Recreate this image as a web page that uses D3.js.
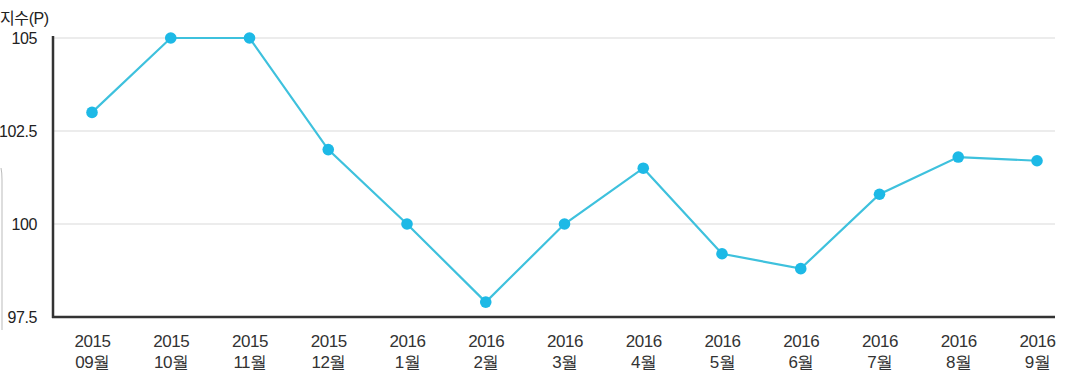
<!DOCTYPE html>
<html><head><meta charset="utf-8">
<script src="https://cdn.jsdelivr.net/npm/d3@7"></script>
<style>
html,body{margin:0;padding:0;background:#fff;}
svg{display:block;font-family:"Liberation Sans","Noto Sans CJK KR",sans-serif;}
</style></head>
<body>
<svg id="chart" width="1070" height="385"></svg>
<script>
const years = ["2015","2015","2015","2015","2016","2016","2016","2016","2016","2016","2016","2016","2016"];
const months = ["09월","10월","11월","12월","1월","2월","3월","4월","5월","6월","7월","8월","9월"];
const values = [103.0,105.0,105.0,102.0,100.0,97.9,100.0,101.5,99.2,98.8,100.8,101.8,101.7];
const yTicks = [97.5,100,102.5,105];
const yTickLabels = ["97.5","100","102.5","105"];
const unitLabel = "지수(P)";

(function(){
const svg = d3.select("#chart");
const mLeft = 53, mRight = 1055, mTop = 38, mBottom = 317;
const idx = d3.range(values.length);
const x = d3.scalePoint().domain(idx).range([92, 1037]).padding(0);
const y = d3.scaleLinear().domain([97.5,105]).range([mBottom, mTop]);

// decorative thin line at far left
svg.append("path").attr("d", `M1,168 Q2,172 2,180 L2,330`).attr("fill","none").attr("stroke","#bbb").attr("stroke-width",1);

// gridlines
svg.append("g").selectAll("line").data(yTicks.filter(d=>d>97.5)).join("line")
  .attr("x1", mLeft).attr("x2", mRight)
  .attr("y1", d=>y(d)).attr("y2", d=>y(d))
  .attr("stroke","#d9d9d9").attr("stroke-width",1);

// y axis labels
const yAxis = d3.axisLeft(y).tickValues(yTicks).tickFormat((d,i)=>yTickLabels[i]).tickSize(0).tickPadding(16);
const gy = svg.append("g").attr("transform",`translate(${mLeft},0)`).call(yAxis);
gy.select(".domain").remove();
gy.selectAll("text").attr("font-size",16).attr("letter-spacing",-0.4).attr("fill","#222").attr("font-family","Liberation Sans, sans-serif");

// axes lines
svg.append("line").attr("x1",mLeft).attr("x2",mLeft).attr("y1",mTop-2).attr("y2",mBottom+1).attr("stroke","#333").attr("stroke-width",2.5);
svg.append("line").attr("x1",mLeft-1).attr("x2",mRight).attr("y1",mBottom).attr("y2",mBottom).attr("stroke","#333").attr("stroke-width",2.5);

// x labels
const xAxis = d3.axisBottom(x).tickSize(0).tickFormat(()=> "");
const gx = svg.append("g").attr("transform",`translate(0,${mBottom})`).call(xAxis);
gx.select(".domain").remove();
gx.selectAll(".tick text").each(function(d){
  const t = d3.select(this).attr("font-size",17).attr("letter-spacing",-0.5).attr("fill","#333").attr("y",null).attr("dy",null);
  t.append("tspan").attr("x",0).attr("y",30).text(years[d]);
  t.append("tspan").attr("x",0).attr("y",51).text(months[d]);
});

// title
svg.append("text").attr("x",0).attr("y",24).attr("font-size",16).attr("letter-spacing",-0.4).attr("fill","#222").text(unitLabel);

// line
const line = d3.line().x((d,i)=>x(i)).y(d=>y(d));
svg.append("path").datum(values).attr("d",line).attr("fill","none").attr("stroke","#3ec1dd").attr("stroke-width",2.2);

svg.append("g").selectAll("circle").data(values).join("circle")
  .attr("cx",(d,i)=>x(i)).attr("cy",d=>y(d)).attr("r",5.8).attr("fill","#1db9e6");
})();
</script>
</body></html>
